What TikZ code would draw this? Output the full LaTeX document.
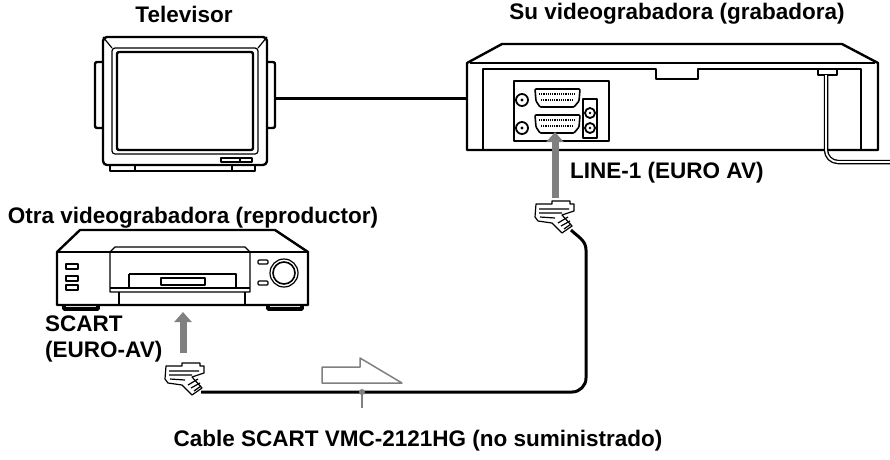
\documentclass[tikz,border=0pt]{standalone}
\usepackage{fontspec}
\setmainfont{Liberation Sans}
\usetikzlibrary{arrows.meta}
\begin{document}
\begin{tikzpicture}[x=1pt,y=-1pt,line join=round,
  lbl/.style={font=\bfseries\fontsize{22.5}{24}\selectfont,inner sep=0pt},
  thick1/.style={line width=2.4pt},
  thin1/.style={line width=1.2pt},
  grayarrow/.style={draw=gray,line width=7pt,-{Triangle[width=17pt,length=10pt]}},
  cable/.style={line width=3pt}]
\useasboundingbox (0,0) rectangle (890,459);
% labels
\node[lbl] (ltv) at (184,14) {Televisor};
\node[lbl] (lrec) at (677,14) {Su videograbadora (grabadora)};
\node[lbl] (lplay) at (193,218) {Otra videograbadora (reproductor)};
\node[lbl,anchor=west] (lline) at (570,173) {LINE-1 (EURO AV)};
\node[lbl,anchor=west] (lscart) at (45,324) {SCART};
\node[lbl,anchor=west] (leuro) at (45,352) {(EURO-AV)};
\node[lbl] (lcable) at (418,441) {Cable SCART VMC-2121HG (no suministrado)};
% TV
\draw[thick1,rounded corners=2] (95,62) rectangle (104,128);
\draw[thick1,rounded corners=2] (266,62) rectangle (275,128);
\draw[thick1,fill=white,rounded corners=4] (103,37) rectangle (267,165);
\draw[thin1,rounded corners=3] (112,48) rectangle (258,154);
\draw[thin1] (103,37)--(112,48) (267,37)--(258,48);
\draw[thick1,rounded corners=2] (117,52) rectangle (253,150);
\draw[thin1] (221,158) rectangle (252,162) (240,158)--(240,162);
\draw[thick1] (110,165)--(110,171)--(255,171)--(255,165);
\draw[thin1] (135,165)--(135,171) (232,165)--(232,171);
\coordinate (tvout) at (275,98);
% recorder VCR
\draw[thick1] (467,150)--(467,63)--(502,44)--(842,44)--(878,63)--(878,150)--cycle;
\draw[thin1] (470,63)--(875,63);
\draw[thin1] (483,150)--(483,69)--(656,69)--(656,79)--(698,79)--(698,69)--(861,69)--(861,150);
\coordinate (vcrin) at (467,98);
\draw[cable] (tvout)--(vcrin);
\draw[thin1] (514,81) rectangle (609,141);
\foreach \yy in {89,115}{
 \draw[line width=1.6pt,rounded corners=1] (535,\yy)--(580,\yy)--(579,\yy+12)--(574,\yy+18)--(540,\yy+18)--(536,\yy+12)--cycle;
 \draw[thin1,densely dotted] (539,\yy+5)--(576,\yy+5) (541,\yy+11)--(574,\yy+11);}
\foreach \yy in {100,128}{\draw[line width=1.8pt] (522,\yy) circle (6);\fill (522,\yy) circle (1.6);}
\draw[thin1] (583,99) rectangle (597,138);
\foreach \yy in {113,128}{\draw[line width=1.8pt] (590,\yy) circle (5);\fill (590,\yy) circle (1.4);}
\draw[thin1] (818,69) rectangle (837,75);
\draw[line width=4.5pt] (826,75)--(826,150) arc[start angle=180,end angle=90,radius=12]--(890,162);
\draw[line width=1.8pt,white] (826,75)--(826,150) arc[start angle=180,end angle=90,radius=12]--(890,162);
% player VCR
\draw[thick1] (57,305)--(57,252)--(80,230)--(275,230)--(308,252)--(308,305)--cycle;
\draw[thin1] (57,252)--(308,252);
\draw[thin1] (110,292)--(110,252)--(115,247)--(245,247)--(250,252)--(250,292)--cycle;
\draw[thin1] (110,288)--(250,288);
\draw[thin1] (129,274)--(236,274)--(236,288) (129,274)--(129,288);
\draw[thin1] (161,278) rectangle (205,285);
\draw[thin1] (119,292)--(119,305) (245,292)--(245,305);
\foreach \yy in {267,279,288}{\draw[thin1] (66,\yy-3) rectangle (78,\yy+2);}
\foreach \yy in {262,283}{\draw[thin1,rounded corners=1] (258,\yy-2) rectangle (268,\yy+2);}
\draw[thin1] (284,273) circle (14);\draw[line width=1.6pt] (284,273) circle (11);
\draw[line width=3.5pt] (64,305)--(64,309)--(98,309)--(98,305) (268,305)--(268,309)--(302,309)--(302,305);
% plugs
\newcommand{\myplug}[2]{
\begin{scope}[shift={(#1,#2)}]
 \draw[thin1,fill=white] (0,0)--(0,3)--(-16,3)--(-17,16)--(-14,20)--(0,22)--(10,32)--(20,25)--(10,14)--(22,10)--(22,3)--(18,3)--(18,0)--cycle;
 \draw[thin1] (-13,8)--(17,8) (-13,12)--(10,12) (-12,16)--(3,17);
 \draw[thin1] (6,22)--(16,16) (9,25)--(18,20) (12,28)--(19,23);
\end{scope}}
\myplug{552}{201}
\myplug{182}{363}
\coordinate (p1) at (571,230);
\coordinate (p2) at (201,392);
\draw[cable] (p1) to[out=-45,in=90] (586,250)--(586,378) arc[start angle=0,end angle=90,radius=14]--(p2);
\draw[grayarrow] (555,198)--(555,132);
\draw[grayarrow] (183,353)--(183,312);
% hollow arrow
\draw[line width=1.5pt,draw=gray,fill=white] (322,383)--(322,367)--(360,367)--(360,358)--(402,383)--cycle;
% label tick
\coordinate (tick) at (362,392);
\fill[gray] (tick) circle (3);
\draw[gray,line width=1.8pt] (tick)--(362,408);
\end{tikzpicture}
\end{document}
